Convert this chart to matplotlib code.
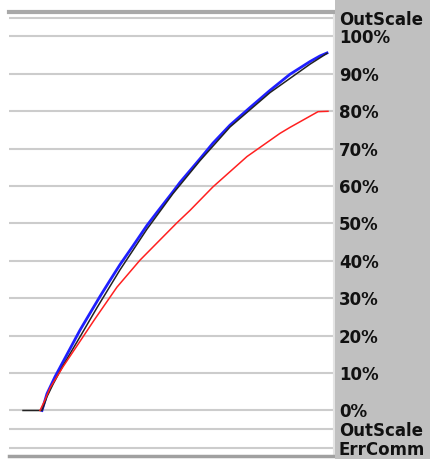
import matplotlib
matplotlib.use("Agg")
import matplotlib.pyplot as plt
import matplotlib.transforms as mtransforms
from matplotlib.patches import Rectangle

# time axis (percent of run) and output levels (% of scale)
blue_x = [10.15, 11.69, 14.15, 18.77, 21.85, 24.92, 28.0, 31.08, 34.15, 38.15, 42.46, 45.54,
          50.46, 52.62, 58.77, 62.77, 68.0, 74.15, 80.31, 86.46, 92.62, 95.69, 97.85]
blue_y = [0.0, 4.5, 9.0, 16.5, 21.5, 26.0, 30.5, 34.8, 39.0, 44.0, 49.5, 53.0,
          58.5, 61.0, 67.3, 71.5, 76.3, 81.0, 85.6, 89.9, 93.3, 94.8, 95.6]

black_x = [4.31, 10.15, 11.69, 13.54, 16.62, 21.85, 27.08, 34.15, 42.46, 50.46, 58.77,
           68.0, 80.31, 92.62, 97.85]
black_y = [0.0, 0.0, 3.7, 7.0, 12.0, 19.7, 27.5, 37.6, 48.5, 58.0, 66.8,
           75.8, 85.0, 92.6, 95.5]

red_x = [9.54, 11.08, 12.62, 16.62, 21.85, 26.46, 33.23, 40.31, 45.54, 51.69, 55.69,
         62.77, 73.23, 83.38, 86.46, 95.08, 98.15]
red_y = [0.0, 2.8, 6.0, 11.7, 18.5, 24.5, 33.0, 40.2, 44.8, 50.2, 53.5,
         59.8, 67.9, 74.1, 75.7, 79.9, 80.0]

grid_levels = [105, 100, 90, 80, 70, 60, 50, 40, 30, 20, 10, 0, -5, -10]
label_levels = [105, 100, 90, 80, 70, 60, 50, 40, 30, 20, 10, 0, -5, -10]
label_texts = ["OutScale", "100%", "90%", "80%", "70%", "60%", "50%", "40%",
               "30%", "20%", "10%", "0%", "OutScale", "ErrComm"]

W, H = 431, 459
fig = plt.figure(figsize=(W / 100, H / 100), dpi=100, facecolor="white")

# grey label panel on the right
fig.patches.append(Rectangle((335 / W, 0), 1 - 335 / W, 1, transform=fig.transFigure,
                             facecolor="#c0c0c0", edgecolor="none", zorder=0))

ax = fig.add_axes([9 / W, 1 - 456 / H, (334 - 9) / W, (456 - 12) / H])
ax.set_xlim(0, 100)
ax.set_ylim(-12.17, 106.55)
ax.set_facecolor("white")

for g in grid_levels:
    ax.axhline(g, color="#cccccc", lw=1.5, zorder=1)

ax.plot(blue_x, blue_y, color="#1f1fff", lw=2.0, zorder=3)
ax.plot(black_x, black_y, color="#222222", lw=1.1, zorder=4)
ax.plot(red_x, red_y, color="#ff2020", lw=1.1, zorder=5)

ax.set_xticks([])
ax.set_yticks([])
ax.spines["left"].set_visible(False)
ax.spines["top"].set_color("#a8a8a8")
ax.spines["top"].set_linewidth(3)
ax.spines["bottom"].set_color("#a0a0a0")
ax.spines["bottom"].set_linewidth(2.5)
ax.spines["right"].set_color("#e4e4e4")
ax.spines["right"].set_linewidth(1.5)

trans = mtransforms.blended_transform_factory(fig.transFigure, ax.transData)
for lvl, txt in zip(label_levels, label_texts):
    fig.text(339 / W, lvl - 0.5, txt, transform=trans, ha="left", va="center",
             fontsize=12, fontweight="bold", color="#111111")

fig.savefig("out.png", dpi=100, facecolor=fig.get_facecolor())
